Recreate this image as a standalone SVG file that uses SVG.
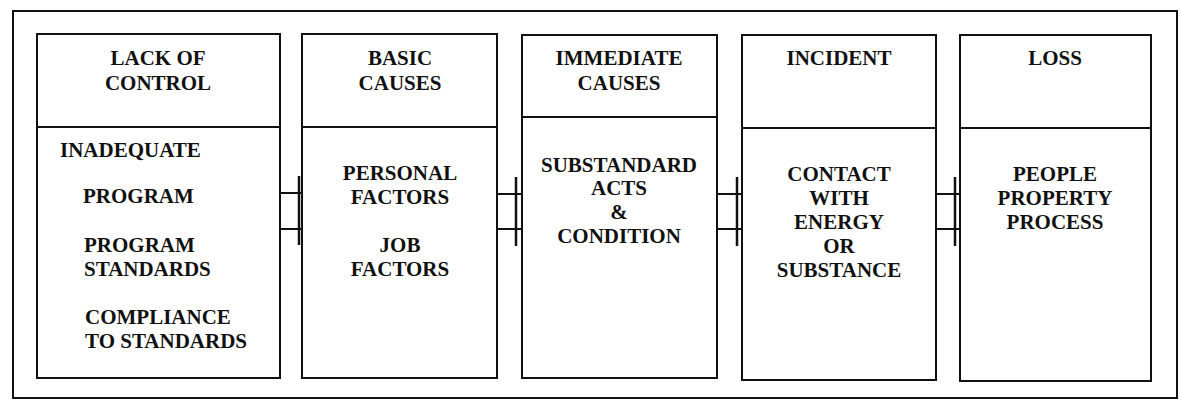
<svg xmlns="http://www.w3.org/2000/svg" width="1181" height="400" viewBox="0 0 1181 400">
<style>
.bg{fill:#ffffff}
.frame{fill:none;stroke:#111;stroke-width:2}
.box{fill:#ffffff;stroke:#111;stroke-width:2}
.div{stroke:#111;stroke-width:2}
.conn line{stroke:#111;stroke-width:2}
.conn .barb{stroke-width:2.5}
text{font-family:"Liberation Serif","Times New Roman",serif;font-weight:bold;font-size:21px;fill:#111}
.c{text-anchor:middle}
</style>
<rect class="bg" x="0" y="0" width="1181" height="400"/>
<rect class="frame" x="13" y="11" width="1164" height="387"/>

<g id="connectors" class="conn">
  <line x1="280" y1="193" x2="302" y2="193"/>
  <line x1="280" y1="229" x2="302" y2="229"/>
  <line class="barb" x1="299" y1="176" x2="299" y2="245"/>
  <line x1="497" y1="194" x2="522" y2="194"/>
  <line x1="497" y1="229" x2="522" y2="229"/>
  <line class="barb" x1="516" y1="177" x2="516" y2="246"/>
  <line x1="717" y1="194" x2="742" y2="194"/>
  <line x1="717" y1="229" x2="742" y2="229"/>
  <line class="barb" x1="737" y1="177" x2="737" y2="246"/>
  <line x1="936" y1="194" x2="960" y2="194"/>
  <line x1="936" y1="229" x2="960" y2="229"/>
  <line class="barb" x1="955" y1="177" x2="955" y2="246"/>
</g>

<g id="lack-of-control">
  <rect class="box" x="37" y="34" width="243" height="344"/>
  <line class="div" x1="37" y1="127" x2="280" y2="127"/>
  <text class="c" x="158" y="65">LACK OF</text>
  <text class="c" x="158" y="90">CONTROL</text>
  <text x="60" y="157">INADEQUATE</text>
  <text x="83" y="203">PROGRAM</text>
  <text x="84" y="252">PROGRAM</text>
  <text x="84" y="276">STANDARDS</text>
  <text x="85" y="324">COMPLIANCE</text>
  <text x="85" y="348">TO STANDARDS</text>
</g>

<g id="basic-causes">
  <rect class="box" x="302" y="34" width="195" height="344"/>
  <line class="div" x1="302" y1="127" x2="497" y2="127"/>
  <text class="c" x="400" y="65">BASIC</text>
  <text class="c" x="400" y="90">CAUSES</text>
  <text class="c" x="400" y="180">PERSONAL</text>
  <text class="c" x="400" y="204">FACTORS</text>
  <text class="c" x="400" y="252">JOB</text>
  <text class="c" x="400" y="276">FACTORS</text>
</g>

<g id="immediate-causes">
  <rect class="box" x="522" y="35" width="195" height="343"/>
  <line class="div" x1="522" y1="117" x2="717" y2="117"/>
  <text class="c" x="619" y="65">IMMEDIATE</text>
  <text class="c" x="619" y="90">CAUSES</text>
  <text class="c" x="619" y="172">SUBSTANDARD</text>
  <text class="c" x="619" y="195">ACTS</text>
  <text class="c" x="619" y="219">&amp;</text>
  <text class="c" x="619" y="243">CONDITION</text>
</g>

<g id="incident">
  <rect class="box" x="742" y="35" width="194" height="345"/>
  <line class="div" x1="742" y1="128" x2="936" y2="128"/>
  <text class="c" x="839" y="65">INCIDENT</text>
  <text class="c" x="839" y="181">CONTACT</text>
  <text class="c" x="839" y="205">WITH</text>
  <text class="c" x="839" y="229">ENERGY</text>
  <text class="c" x="839" y="253">OR</text>
  <text class="c" x="839" y="277">SUBSTANCE</text>
</g>

<g id="loss">
  <rect class="box" x="960" y="35" width="191" height="346"/>
  <line class="div" x1="960" y1="128" x2="1151" y2="128"/>
  <text class="c" x="1055" y="65">LOSS</text>
  <text class="c" x="1055" y="181">PEOPLE</text>
  <text class="c" x="1055" y="205">PROPERTY</text>
  <text class="c" x="1055" y="229">PROCESS</text>
</g>
</svg>
